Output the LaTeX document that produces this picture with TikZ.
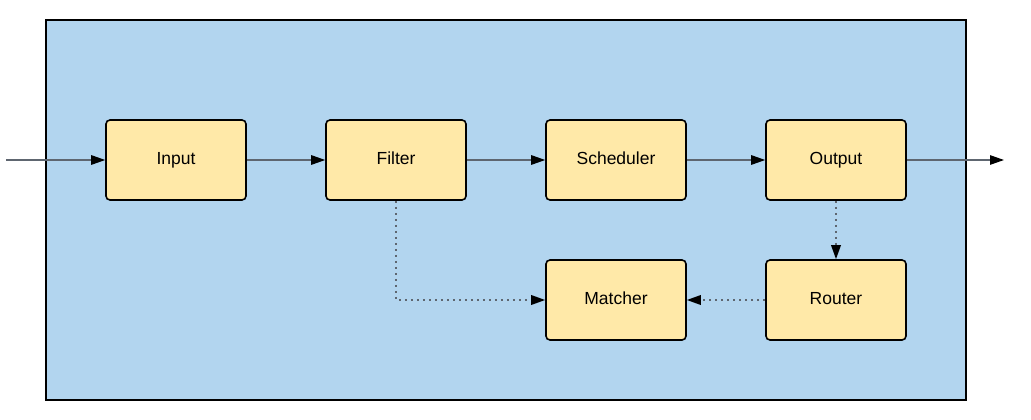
\documentclass[tikz,border=0pt]{standalone}
\usepackage{fontspec}
\setmainfont{Liberation Sans}
\usetikzlibrary{arrows.meta}
\definecolor{bgblue}{HTML}{B2D5EF}
\definecolor{boxyellow}{HTML}{FFE9A8}
\definecolor{linegray}{HTML}{5E6670}
\tikzset{
  x=1pt, y=-1pt,
  blockbox/.style={draw=black, line width=1.6pt, fill=boxyellow, rounded corners=4pt,
    minimum width=140pt, minimum height=80pt, inner sep=0pt, text height=12.6pt, text depth=4.5pt,
    font=\fontsize{17.5}{20}\selectfont},
  flow/.style={draw=linegray, line width=1.2pt, -{Triangle[length=14pt,width=9.5pt,fill=black,color=black]}},
  dotflow/.style={flow, line width=1.8pt, dash pattern=on 1.8pt off 4.2pt}
}
\begin{document}
\begin{tikzpicture}
\useasboundingbox (0,0) rectangle (1031,420);
\node[draw=black, line width=1.8pt, fill=bgblue, minimum width=920pt, minimum height=380pt, inner sep=0pt] (frame) at (506,210) {};
\node[blockbox] (input) at (176,160) {Input};
\node[blockbox] (filter) at (396,160) {Filter};
\node[blockbox] (sched) at (616,160) {Scheduler};
\node[blockbox] (output) at (836,160) {Output};
\node[blockbox] (matcher) at (616,300) {Matcher};
\node[blockbox] (router) at (836,300) {Router};
\coordinate (in) at (6,160);
\coordinate (out) at (1004,160);
\draw[flow] (in) -- (input.west);
\draw[flow] (input) -- (filter);
\draw[flow] (filter) -- (sched);
\draw[flow] (sched) -- (output);
\draw[flow] (output.east) -- (out);
\draw[dotflow] (filter.south) |- (matcher.west);
\draw[dotflow] (output.south) -- (router.north);
\draw[dotflow] (router.west) -- (matcher.east);
\end{tikzpicture}
\end{document}
